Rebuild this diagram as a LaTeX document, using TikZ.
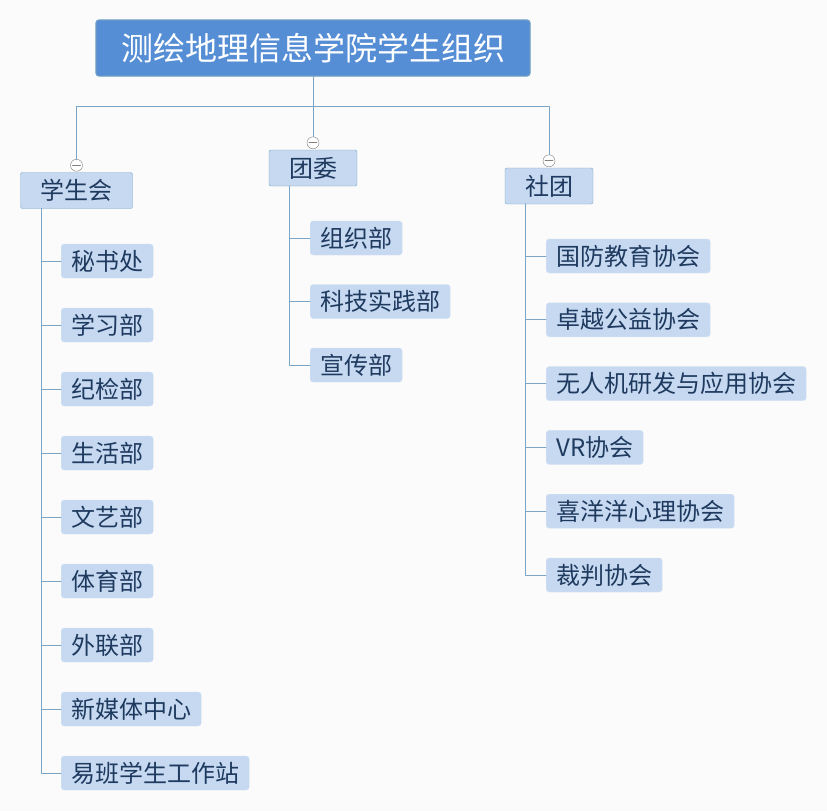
\documentclass[tikz,border=0pt]{standalone}
\usepackage{fontspec}
\newfontfamily\cjk{Noto Sans CJK SC}
\definecolor{bgcol}{HTML}{FBFBFB}
\definecolor{rootfill}{HTML}{558ED5}
\definecolor{rootline}{HTML}{6C9CC4}
\definecolor{boxfill}{HTML}{C6D9F1}
\definecolor{boxline}{HTML}{7BA3C8}
\definecolor{leafline}{HTML}{D4E2F3}
\definecolor{linkcol}{HTML}{7AA5C6}
\definecolor{navy}{HTML}{1F3A5F}
\begin{document}
\begin{tikzpicture}[x=1pt, y=-1pt, line join=round, line cap=round,
	root/.style={draw=rootline, line width=1.2pt, fill=rootfill, rounded corners=3pt, text=white,
		minimum width=434pt, minimum height=56pt, inner sep=0pt, font=\cjk\fontsize{32}{38}\selectfont},
	topic/.style={draw=boxline, fill=boxfill, rounded corners=2pt, text=navy, inner xsep=20pt,
		inner ysep=0pt, minimum height=36pt, font=\cjk\fontsize{24}{28}\selectfont},
	leaf/.style={draw=leafline, fill=boxfill, rounded corners=3pt, text=navy, inner xsep=10pt,
		inner ysep=0pt, minimum height=34pt, anchor=west, font=\cjk\fontsize{24}{28}\selectfont},
	link/.style={draw=linkcol, line width=0.9pt},
	fold/.style={circle, draw=gray, fill=white, minimum size=12pt, inner sep=0pt,
		path picture={\draw[gray, line width=0.8pt] ([xshift=2pt]path picture bounding box.west) -- ([xshift=-2pt]path picture bounding box.east);}}]
	\useasboundingbox[fill=bgcol] (0,0) rectangle (827,811);
	% root and the three branches
	\node (root) at (313,48) [root] {测绘地理信息学院学生组织};
	\node (xsh) at (76.5,190.5) [topic] {学生会};
	\node (tw) at (313,168) [topic] {团委};
	\node (st) at (549,186) [topic] {社团};
	\node (fxsh) at ([yshift=7pt]xsh.north) [fold] {};
	\node (ftw) at ([yshift=7pt]tw.north) [fold] {};
	\node (fst) at ([yshift=7pt]st.north) [fold] {};
	\draw[link] (root.south) -- ++(0,30) -| (fxsh.north);
	\draw[link] (root.south) -- ++(0,30) -| (fst.north);
	\draw[link] (root.south) -- (ftw.north);
	% 学生会
	\foreach \name/\txt [count=\i] in {ms/秘书处, xx/学习部, jj/纪检部, sh/生活部, wy/文艺部,
		ty/体育部, wl/外联部, xmt/新媒体中心, yb/易班学生工作站}{
		\node (\name) at (61,{261+64*(\i-1)}) [leaf] {\txt};
		\draw[link] ([xshift=21pt]xsh.south west) |- (\name.west);
	}
	% 团委
	\foreach \name/\txt [count=\i] in {zz/组织部, kj/科技实践部, xc/宣传部}{
		\node (\name) at (310,{238+63.5*(\i-1)}) [leaf] {\txt};
		\draw[link] ([xshift=21pt]tw.south west) |- (\name.west);
	}
	% 社团
	\foreach \name/\txt [count=\i] in {gf/国防教育协会, zy/卓越公益协会, wrj/无人机研发与应用协会,
		vr/VR协会, xyy/喜洋洋心理协会, cp/裁判协会}{
		\node (\name) at (546,{256+63.8*(\i-1)}) [leaf] {\txt};
		\draw[link] ([xshift=21pt]st.south west) |- (\name.west);
	}
\end{tikzpicture}
\end{document}
